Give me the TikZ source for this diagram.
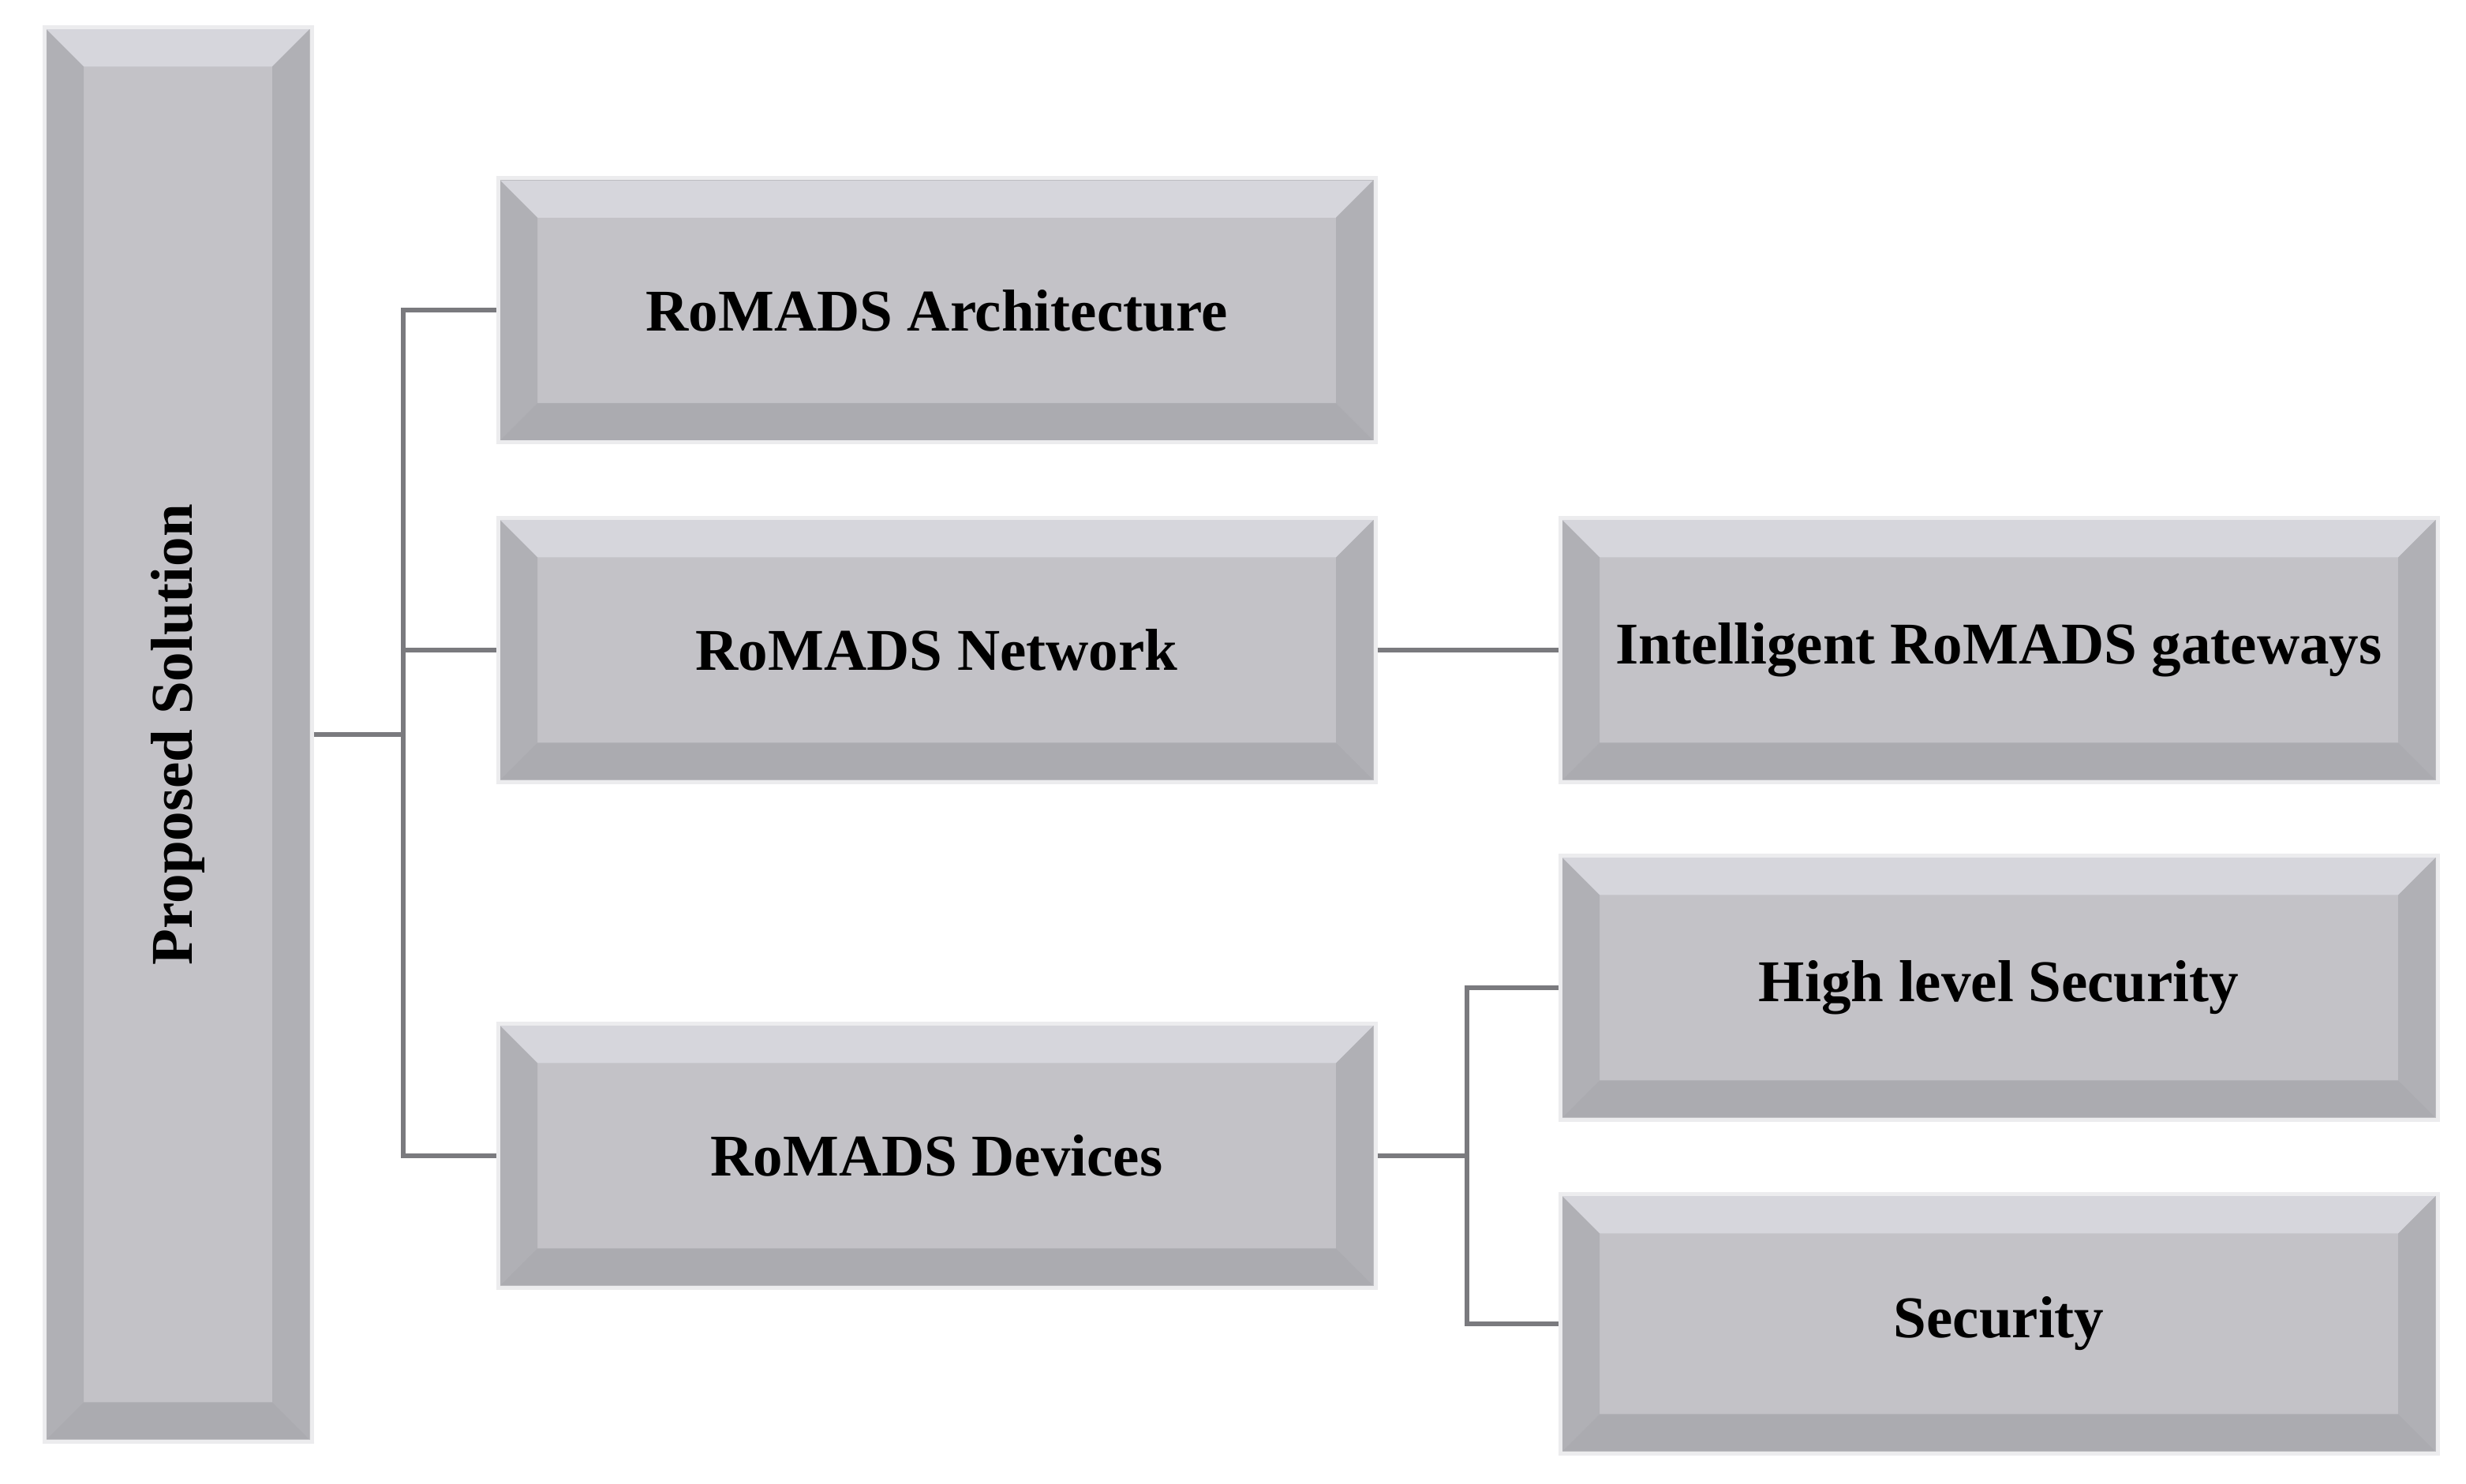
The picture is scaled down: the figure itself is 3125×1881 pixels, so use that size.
\documentclass[tikz,border=0pt]{standalone}
\usepackage{fontspec}
\setmainfont{Liberation Serif}
\begin{document}
\begin{tikzpicture}[x=1pt,y=1pt,
  box/.style={rectangle,inner sep=0pt,fill=face,draw=edge,line width=5pt,
    font=\fontsize{75}{80}\selectfont\bfseries,
    path picture={
      \coordinate (sw) at (path picture bounding box.south west);
      \coordinate (ne) at (path picture bounding box.north east);
      \coordinate (nw) at (path picture bounding box.north west);
      \coordinate (se) at (path picture bounding box.south east);
      \fill[bevT] (nw) -- (ne) -- ([shift={(-50,-50)}]ne) -- ([shift={(50,-50)}]nw) -- cycle;
      \fill[bevL] (nw) -- (sw) -- ([shift={(50,50)}]sw) -- ([shift={(50,-50)}]nw) -- cycle;
      \fill[bevR] (ne) -- (se) -- ([shift={(-50,50)}]se) -- ([shift={(-50,-50)}]ne) -- cycle;
      \fill[bevB] (sw) -- (se) -- ([shift={(-50,50)}]se) -- ([shift={(50,50)}]sw) -- cycle;
      \draw[line width=6pt,draw=rim] (sw) rectangle (ne);
    }},
  wide/.style={box,minimum width=1112pt,minimum height=335pt},
  conn/.style={draw=linec,line width=6pt}]
\definecolor{face}{HTML}{C3C2C7}
\definecolor{edge}{HTML}{ECECEE}
\definecolor{rim}{HTML}{BDBDC1}
\definecolor{bevT}{HTML}{D6D6DC}
\definecolor{bevL}{HTML}{B0B0B5}
\definecolor{bevR}{HTML}{B0B0B5}
\definecolor{bevB}{HTML}{ABABB0}
\definecolor{linec}{HTML}{7A7A7E}
\useasboundingbox (0,0) rectangle (3125,1881);
\fill[white] (0,0) rectangle (3125,1881);
\node[box,minimum width=339pt,minimum height=1793pt] (ps) at (225.5,950) {};
\node[rotate=90,font=\fontsize{75}{80}\selectfont\bfseries] at (ps.center) {Proposed Solution};
\node[wide] (arch) at (1187,1487.5) {RoMADS Architecture};
\node[wide] (net) at (1187,1057) {RoMADS Network};
\node[wide] (dev) at (1187,416) {RoMADS Devices};
\node[wide] (gw) at (2533,1057) {Intelligent RoMADS gateways};
\node[wide] (hl) at (2533,629) {High level Security};
\node[wide,minimum height=329pt] (sec) at (2533,203) {Security};
\coordinate (t) at (511,950);
\coordinate (b) at (1859,416);
\draw[conn] (ps.east) -- (t);
\draw[conn] (t) |- (arch.west);
\draw[conn] (t |- net.west) -- (net.west);
\draw[conn] (t) |- (dev.west);
\draw[conn] (net.east) -- (gw.west);
\draw[conn] (dev.east) -- (b);
\draw[conn] (b) |- (hl.west);
\draw[conn] (b) |- (sec.west);
\end{tikzpicture}
\end{document}
